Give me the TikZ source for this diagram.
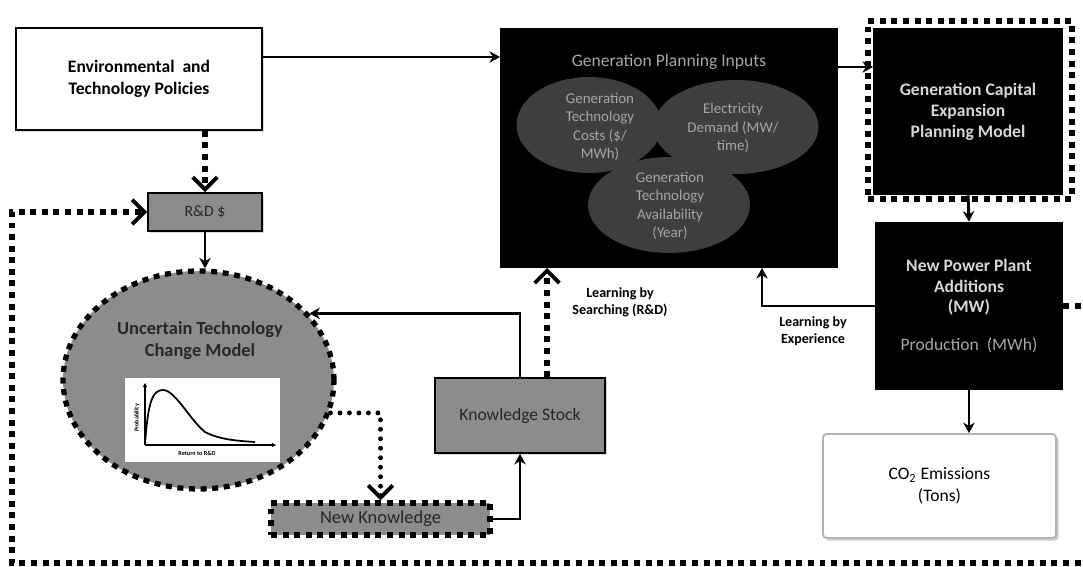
\documentclass[tikz,border=0pt]{standalone}
\usepackage{fontspec}
\setmainfont{Carlito}
\usetikzlibrary{arrows.meta, positioning, shapes.geometric, shadows}

\definecolor{midgray}{HTML}{8C8C8C}
\definecolor{ellgray}{HTML}{3E3E3E}
\definecolor{gpitext}{HTML}{A6A6A6}
\definecolor{boxtext}{HTML}{D6D6D6}

\begin{document}
\begin{tikzpicture}[x=0.02cm, y=-0.02cm,
    box/.style={draw, line width=1pt, align=center, inner sep=0pt},
    shade box/.style={drop shadow={shadow xshift=1.2pt, shadow yshift=-1.2pt, opacity=0.3}},
    graybox/.style={box, fill=midgray, text=black!85},
    blackbox/.style={fill=black, align=center, inner sep=0pt, text=boxtext},
    dotln/.style={line width=3pt, dash pattern=on 3.4pt off 3.2pt},
    roundln/.style={line width=2.8pt, line cap=round, dash pattern=on 0pt off 5.4pt},
    chev/.style={-{Straight Barb[length=7pt,width=14pt,line width=2.2pt]}},
    arr/.style={line width=1.7pt, -{Stealth[length=6pt,width=6.5pt]}},
    inell/.style={ellipse, fill=ellgray, inner sep=0pt},
    gpifont/.style={font=\fontsize{8.5}{10.5}\selectfont, text=gpitext, align=center},
    lblfont/.style={font=\fontsize{8}{9.5}\selectfont\bfseries, align=center}]
  \useasboundingbox (0,0) rectangle (1083,567);
  \clip (0,0) rectangle (1083,567);

  % top row
  \node[box, shade box, fill=white, minimum width=4.92cm, minimum height=2.04cm,
        font=\fontsize{10}{12.5}\selectfont\bfseries] (env) at (139,79)
        {Environmental \ and\\Technology Policies};
  \node[blackbox, minimum width=6.76cm, minimum height=4.8cm] (gpi) at (669,148) {};
  \node[gpifont, font=\fontsize{10}{12}\selectfont] (gpititle) at (669,62) {Generation Planning Inputs};
  \node[inell, minimum width=2.9cm, minimum height=1.92cm] (costs) at (589,125) {};
  \node[inell, minimum width=3.3cm, minimum height=1.88cm] (demand) at (736,127) {};
  \node[inell, minimum width=3.24cm, minimum height=1.92cm] (avail) at (669,205) {};
  \node[gpifont] at (600,127) {Generation\\Technology\\Costs (\$/\\MWh)};
  \node[gpifont] at (733,128) {Electricity\\Demand (MW/\\time)};
  \node[gpifont] at (670,206) {Generation\\Technology\\Availability\\(Year)};

  \node[dotln, draw, minimum width=4.08cm, minimum height=3.56cm] (gceframe) at (970,110) {};
  \node[blackbox, minimum width=3.8cm, minimum height=3.34cm,
        font=\fontsize{10}{12}\selectfont\bfseries] (gce) at (968,111.5)
        {Generation Capital\\Expansion\\Planning Model};
  \node[blackbox, minimum width=3.76cm, minimum height=3.36cm,
        font=\fontsize{10}{11.5}\selectfont] (npp) at (969,306)
        {\bfseries New Power Plant\\\bfseries Additions\\\bfseries (MW)\\[10pt]
         \textcolor{gpitext}{Production \ (MWh)}};
  \node[box, draw=gray!60, rounded corners=2pt, fill=white, minimum width=4.66cm,
        minimum height=2.08cm, font=\fontsize{10}{12.5}\selectfont,
        drop shadow={shadow xshift=1.5pt, shadow yshift=-1.5pt, opacity=0.4}] (co2)
        at (939.5,486) {CO\textsubscript{2} Emissions\\(Tons)};

  % left side
  \node[graybox, shade box, minimum width=2.28cm, minimum height=0.76cm,
        font=\fontsize{9}{11}\selectfont] (rnd) at (205,212) {R\&D \$};
  \node[ellipse, draw, dotln, fill=midgray, minimum width=5.42cm,
        minimum height=4.36cm, inner sep=0pt] (utcm) at (198.5,380) {};
  \node[font=\fontsize{10.5}{12.5}\selectfont\bfseries, align=center,
        text=black!85] (utcmtitle) at (200,341) {Uncertain Technology\\Change Model};
  \node[fill=white, minimum width=3.1cm, minimum height=1.68cm, inner sep=0pt] (plot)
        at (202.5,420) {};
  \draw[line width=0.8pt, -{Stealth[length=2.5pt,width=2.5pt]}] (145,445) -- (145,383);
  \draw[line width=0.8pt, -{Stealth[length=2.5pt,width=2.5pt]}] (145,445) -- (276,445);
  \draw[line width=1pt] (145,445) .. controls (148,400) and (153,390) .. (163,390)
    .. controls (175,390) and (190,420) .. (205,432)
    .. controls (220,440) and (240,441) .. (255,442);
  \node[rotate=90, font=\fontsize{3.5}{4}\selectfont\bfseries] at (137,418) {Probability};
  \node[font=\fontsize{3.5}{4}\selectfont\bfseries] at (197,453) {Return to R\&D};

  \node[graybox, shade box, minimum width=3.4cm, minimum height=1.5cm,
        font=\fontsize{10}{12}\selectfont] (ks) at (520,415.5) {Knowledge Stock};
  \node[graybox, draw, dotln, minimum width=4.38cm, minimum height=0.64cm,
        font=\fontsize{10.5}{12}\selectfont] (nk) at (380.5,519) {New Knowledge};

  % helper points
  \coordinate (gpiin) at (500,57);
  \coordinate (gcein) at (873,67);
  \coordinate (gpisrch) at (547,268);
  \coordinate (gpiexp) at (762,268);
  \coordinate (loopne) at (1100,306);
  \coordinate (loopse) at (1100,563);
  \coordinate (loopsw) at (12,563);

  % connectors
  \draw[arr] (env.east |- gpiin) -- (gpiin);
  \draw[arr] (gpi.east |- gcein) -- (gcein);
  \draw[arr] (gce.south) -- (npp.north);
  \draw[arr] (npp.south) -- (npp.south |- co2.north);
  \draw[arr] (npp.west) -| (gpiexp);
  \draw[dotln, chev] (ks.north -| gpisrch) -- (gpisrch);
  \draw[dotln, chev] (rnd.north |- env.south) -- (rnd.north);
  \draw[arr] (rnd.south) -- (rnd.south |- utcm.north);
  \draw[arr] (ks.north) |- (utcm.31);
  \draw[arr] (nk.east) -| (ks.south);
  \draw[roundln, chev] (utcm.-14) -| (nk.north);
  \draw[dotln, chev] (npp.east) -- (loopne) -- (loopse) -- (loopsw) |- (rnd.west);

  \node[lblfont] at (620,302) {Learning by\\Searching (R\&D)};
  \node[lblfont] at (813,331) {Learning by\\Experience};
\end{tikzpicture}
\end{document}
